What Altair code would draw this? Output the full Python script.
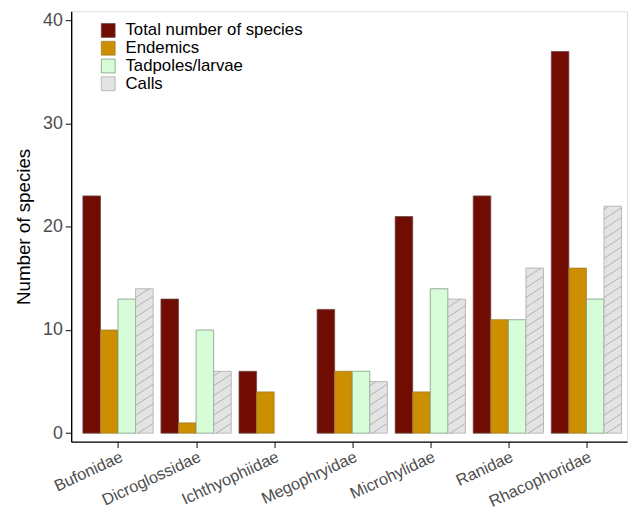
import altair as alt
import pandas as pd

families = ["Bufonidae", "Dicroglossidae", "Ichthyophiidae", "Megophryidae",
            "Microhylidae", "Ranidae", "Rhacophoridae"]
total = [23, 13, 6, 12, 21, 23, 37]
endemics = [10, 1, 4, 6, 4, 11, 16]
tadpoles = [13, 10, 0, 6, 14, 11, 13]
calls = [14, 6, 0, 5, 13, 16, 22]

series = ["Total number of species", "Endemics", "Tadpoles/larvae", "Calls"]
fills = ["#700C02", "#CC8F00", "#D6FCD8", "#E3E3E3"]
strokes = ["#6a4a46", "#a07e30", "#7f9a7f", "#ababab"]

BAR_W = 0.9 / 4
rows = []
for i, fam in enumerate(families):
    for j, (s, vals) in enumerate(zip(series, [total, endemics, tadpoles, calls])):
        v = vals[i]
        if v <= 0:
            continue
        c = (i + 1) - 0.45 + BAR_W * (j + 0.5)
        rows.append(dict(family=fam, series=s, value=v,
                         x0=c - BAR_W / 2, x1=c + BAR_W / 2, base=0))
df = pd.DataFrame(rows)

# hatch lines for the "Calls" bars (derived from the bar values)
SP = 0.95   # vertical spacing (data units)
RISE = 1.1  # rise across a bar (data units)
hrows = []
for r in rows:
    if r["series"] != "Calls":
        continue
    T = r["value"]
    xl, xr = r["x0"], r["x1"]
    w = xr - xl
    k = 0
    while True:
        ys = -RISE + k * SP
        k += 1
        if ys >= T:
            break
        ye = ys + RISE
        if ye <= 0:
            continue
        sx, sy = xl, ys
        ex, ey = xr, ye
        if ys < 0:
            sx = xl + (0 - ys) / RISE * w
            sy = 0
        if ye > T:
            ex = xl + (T - ys) / RISE * w
            ey = T
        if ex - sx > 0.01:
            hrows.append(dict(hx0=sx, hx1=ex, hy0=sy, hy1=ey))
hdf = pd.DataFrame(hrows)

FONT = "Liberation Sans"
xscale = alt.Scale(domain=[0.4, 7.52], nice=False, zero=False)
yscale = alt.Scale(domain=[-0.82, 40.9], nice=False, zero=False)

label_expr = "[" + ",".join("'%s'" % f for f in families) + "][datum.value - 1]"

xaxis = alt.Axis(values=[1, 2, 3, 4, 5, 6, 7], labelExpr=label_expr, labelAngle=335,
                 labelAlign="right", labelBaseline="top", labelFontSize=16.5,
                 labelColor="#4D4D4D", labelFont=FONT, tickSize=6, tickColor="#333333",
                 tickWidth=1.2, domainColor="black", domainWidth=1.4, grid=False,
                 labelPadding=1, labelOverlap=False, labelLimit=300)
yaxis = alt.Axis(values=[0, 10, 20, 30, 40], labelFontSize=18, labelColor="#4D4D4D",
                 labelFont=FONT, tickSize=6, tickColor="#333333", tickWidth=1.2,
                 domainColor="black", domainWidth=1.4, grid=False,
                 titleFontSize=19, titleColor="black", titleFontWeight="normal",
                 titleFont=FONT, titlePadding=9, labelPadding=3)

leg = alt.Legend(title=None, orient="none", legendX=29, legendY=11, symbolType="square",
                 symbolSize=196, labelFontSize=17, labelFont=FONT, labelColor="black",
                 rowPadding=-1.5, symbolStrokeWidth=0.8, labelOffset=9, labelLimit=400)

bars = alt.Chart(df).mark_rect(strokeWidth=0.8).encode(
    x=alt.X("x0:Q", scale=xscale, axis=xaxis, title=None),
    x2="x1",
    y=alt.Y("value:Q", scale=yscale, axis=yaxis, title="Number of species"),
    y2="base",
    fill=alt.Fill("series:N", scale=alt.Scale(domain=series, range=fills), legend=leg),
    stroke=alt.Stroke("series:N", scale=alt.Scale(domain=series, range=strokes), legend=leg),
)

hatch = alt.Chart(hdf).mark_rule(color="#9e9e9e", strokeWidth=0.7).encode(
    x=alt.X("hx0:Q", scale=xscale, title=None),
    x2="hx1",
    y=alt.Y("hy0:Q", scale=yscale, title="Number of species"),
    y2="hy1",
)

chart = alt.layer(bars, hatch).properties(
    width=563, height=436,
    autosize=alt.AutoSizeParams(type="none"),
    padding={"left": 64, "top": 0, "right": 2, "bottom": 68},
).configure_view(stroke=None).configure(font=FONT)

chart.save("out.html", embed_options={"renderer": "svg", "actions": False})
